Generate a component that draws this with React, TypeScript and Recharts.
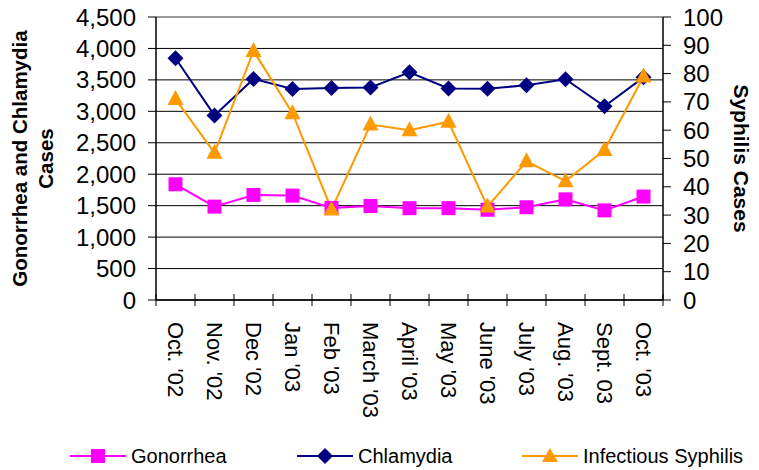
import React from "react";
import { LineChart, Line, XAxis, YAxis, CartesianGrid, Legend, ReferenceLine } from "recharts";

const months = ["Oct. '02", "Nov. '02", "Dec '02", "Jan '03", "Feb '03", "March '03", "April '03", "May '03", "June '03", "July '03", "Aug. '03", "Sept. 03", "Oct. '03"];
const gonorrhea = [1840, 1485, 1670, 1660, 1465, 1495, 1460, 1460, 1435, 1475, 1600, 1425, 1645];
const chlamydia = [3845, 2935, 3515, 3355, 3370, 3380, 3620, 3365, 3360, 3415, 3510, 3080, 3540];
const syphilis = [71, 52, 88, 66, 32, 62, 60, 63, 33, 49, 42, 53, 79];
const leftTicks = [0, 500, 1000, 1500, 2000, 2500, 3000, 3500, 4000, 4500];
const rightTicks = [0, 10, 20, 30, 40, 50, 60, 70, 80, 90, 100];

const data = months.map((m, i) => ({ month: m, gonorrhea: gonorrhea[i], chlamydia: chlamydia[i], syphilis: syphilis[i] }));

const FONT = "'Liberation Sans', Arial, sans-serif";
const MAGENTA = "#FF00FF";
const NAVY = "#000080";
const ORANGE = "#FF9900";

const CHART_W = 759;
const LEFT_W = 156;
const RIGHT_W = 96;
const HALF_BAND = (CHART_W - LEFT_W - RIGHT_W) / months.length / 2;

const Square = (props: any) => {
  const { cx, cy, index } = props;
  if (cx == null || cy == null) return <g key={`s${index}`} />;
  return <rect key={`s${index}`} x={cx - 7} y={cy - 7} width={14} height={14} fill={MAGENTA} />;
};
const Diamond = (props: any) => {
  const { cx, cy, index } = props;
  if (cx == null || cy == null) return <g key={`d${index}`} />;
  return <polygon key={`d${index}`} points={`${cx},${cy - 8} ${cx + 8},${cy} ${cx},${cy + 8} ${cx - 8},${cy}`} fill={NAVY} />;
};
const Triangle = (props: any) => {
  const { cx, cy, index } = props;
  if (cx == null || cy == null) return <g key={`t${index}`} />;
  return <polygon key={`t${index}`} points={`${cx},${cy - 9} ${cx + 8},${cy + 6} ${cx - 8},${cy + 6}`} fill={ORANGE} />;
};

const XTick = (props: any) => {
  const { x, y, payload, index, visibleTicksCount } = props;
  const half = HALF_BAND;
  return (
    <g>
      <line x1={x - half} x2={x - half} y1={y - 14} y2={y - 2} stroke="#000" strokeWidth={1} />
      {index === visibleTicksCount - 1 ? (
        <line x1={x + half} x2={x + half} y1={y - 14} y2={y - 2} stroke="#000" strokeWidth={1} />
      ) : null}
      <text x={x} y={y + 14} transform={`rotate(90, ${x}, ${y + 14})`} textAnchor="start" dominantBaseline="central" fontSize={22} fontFamily={FONT} fill="#000">
        {payload.value}
      </text>
    </g>
  );
};

const fmt = (v: number) => v.toLocaleString("en-US");

const LeftTitle = (props: any) => {
  const vb = props.viewBox || { x: 0, y: 17, width: 156, height: 283 };
  const cy = vb.y + vb.height / 2;
  return (
    <g>
      <text x={19} y={cy} transform={`rotate(-90, 19, ${cy})`} textAnchor="middle" dominantBaseline="central" fontSize={20.5} fontWeight="bold" fontFamily={FONT} fill="#000">
        Gonorrhea and Chlamydia
      </text>
      <text x={45} y={cy} transform={`rotate(-90, 45, ${cy})`} textAnchor="middle" dominantBaseline="central" fontSize={20.5} fontWeight="bold" fontFamily={FONT} fill="#000">
        Cases
      </text>
    </g>
  );
};

const RightTitle = (props: any) => {
  const vb = props.viewBox || { x: 663, y: 17, width: 96, height: 283 };
  const cy = vb.y + vb.height / 2;
  const x = 741;
  return (
    <text x={x} y={cy} transform={`rotate(90, ${x}, ${cy})`} textAnchor="middle" dominantBaseline="central" fontSize={21} fontWeight="bold" fontFamily={FONT} fill="#000">
      Syphilis Cases
    </text>
  );
};

const legendItems = [
  { name: "Gonorrhea", color: MAGENTA, shape: "square", left: 70 },
  { name: "Chlamydia", color: NAVY, shape: "diamond", left: 297 },
  { name: "Infectious Syphilis", color: ORANGE, shape: "triangle", left: 522 },
];

const LegendContent = () => (
  <div style={{ position: "relative", width: 759, height: 40 }}>
    {legendItems.map((it) => (
      <div key={it.name} style={{ position: "absolute", left: it.left, top: 14, height: 24, display: "flex", alignItems: "center" }}>
        <svg width={56} height={20} style={{ display: "block" }}>
          <line x1={0} x2={56} y1={10} y2={10} stroke={it.color} strokeWidth={2} />
          {it.shape === "square" ? <rect x={21} y={3} width={14} height={14} fill={it.color} /> : null}
          {it.shape === "diamond" ? <polygon points="28,2 36,10 28,18 20,10" fill={it.color} /> : null}
          {it.shape === "triangle" ? <polygon points="28,2 36,16 20,16" fill={it.color} /> : null}
        </svg>
        <span style={{ marginLeft: 5, fontFamily: FONT, fontSize: 20, color: "#000", whiteSpace: "nowrap" }}>{it.name}</span>
      </div>
    ))}
  </div>
);

export default function App() {
  return (
    <div style={{ position: "absolute", left: 0, top: 0, width: 759, height: 470, background: "#fff" }}>
      <LineChart width={CHART_W} height={470} data={data} margin={{ top: 17, right: 0, bottom: 0, left: 0 }}>
        <CartesianGrid horizontal={true} vertical={false} stroke="#000" strokeWidth={1} yAxisId="left" />
        <XAxis dataKey="month" interval={0} height={130} padding={{ left: HALF_BAND, right: HALF_BAND }} tickLine={false} axisLine={{ stroke: "#000", strokeWidth: 1.5 }} tick={<XTick />} />
        <YAxis
          yAxisId="left"
          orientation="left"
          width={LEFT_W}
          domain={[0, 4500]}
          ticks={leftTicks}
          interval={0}
          tickFormatter={fmt}
          tick={{ fontSize: 24, fontFamily: FONT, fill: "#000" }}
          tickSize={8}
          tickMargin={12}
          tickLine={{ stroke: "#000" }}
          axisLine={{ stroke: "#000", strokeWidth: 1.5 }}
          label={{ content: <LeftTitle /> }}
        />
        <YAxis
          yAxisId="right"
          orientation="right"
          width={RIGHT_W}
          domain={[0, 100]}
          ticks={rightTicks}
          interval={0}
          tick={{ fontSize: 24, fontFamily: FONT, fill: "#000" }}
          tickSize={8}
          tickMargin={12}
          tickLine={{ stroke: "#000" }}
          axisLine={{ stroke: "#000", strokeWidth: 1.5 }}
          label={{ content: <RightTitle /> }}
        />
        <ReferenceLine yAxisId="left" y={4500} stroke="#999" strokeWidth={2} />
        <Legend verticalAlign="bottom" height={40} content={<LegendContent />} />
        <Line yAxisId="left" type="linear" dataKey="gonorrhea" name="Gonorrhea" stroke={MAGENTA} strokeWidth={2} dot={Square} activeDot={false} isAnimationActive={false} />
        <Line yAxisId="left" type="linear" dataKey="chlamydia" name="Chlamydia" stroke={NAVY} strokeWidth={2} dot={Diamond} activeDot={false} isAnimationActive={false} />
        <Line yAxisId="right" type="linear" dataKey="syphilis" name="Infectious Syphilis" stroke={ORANGE} strokeWidth={2} dot={Triangle} activeDot={false} isAnimationActive={false} />
      </LineChart>
    </div>
  );
}
